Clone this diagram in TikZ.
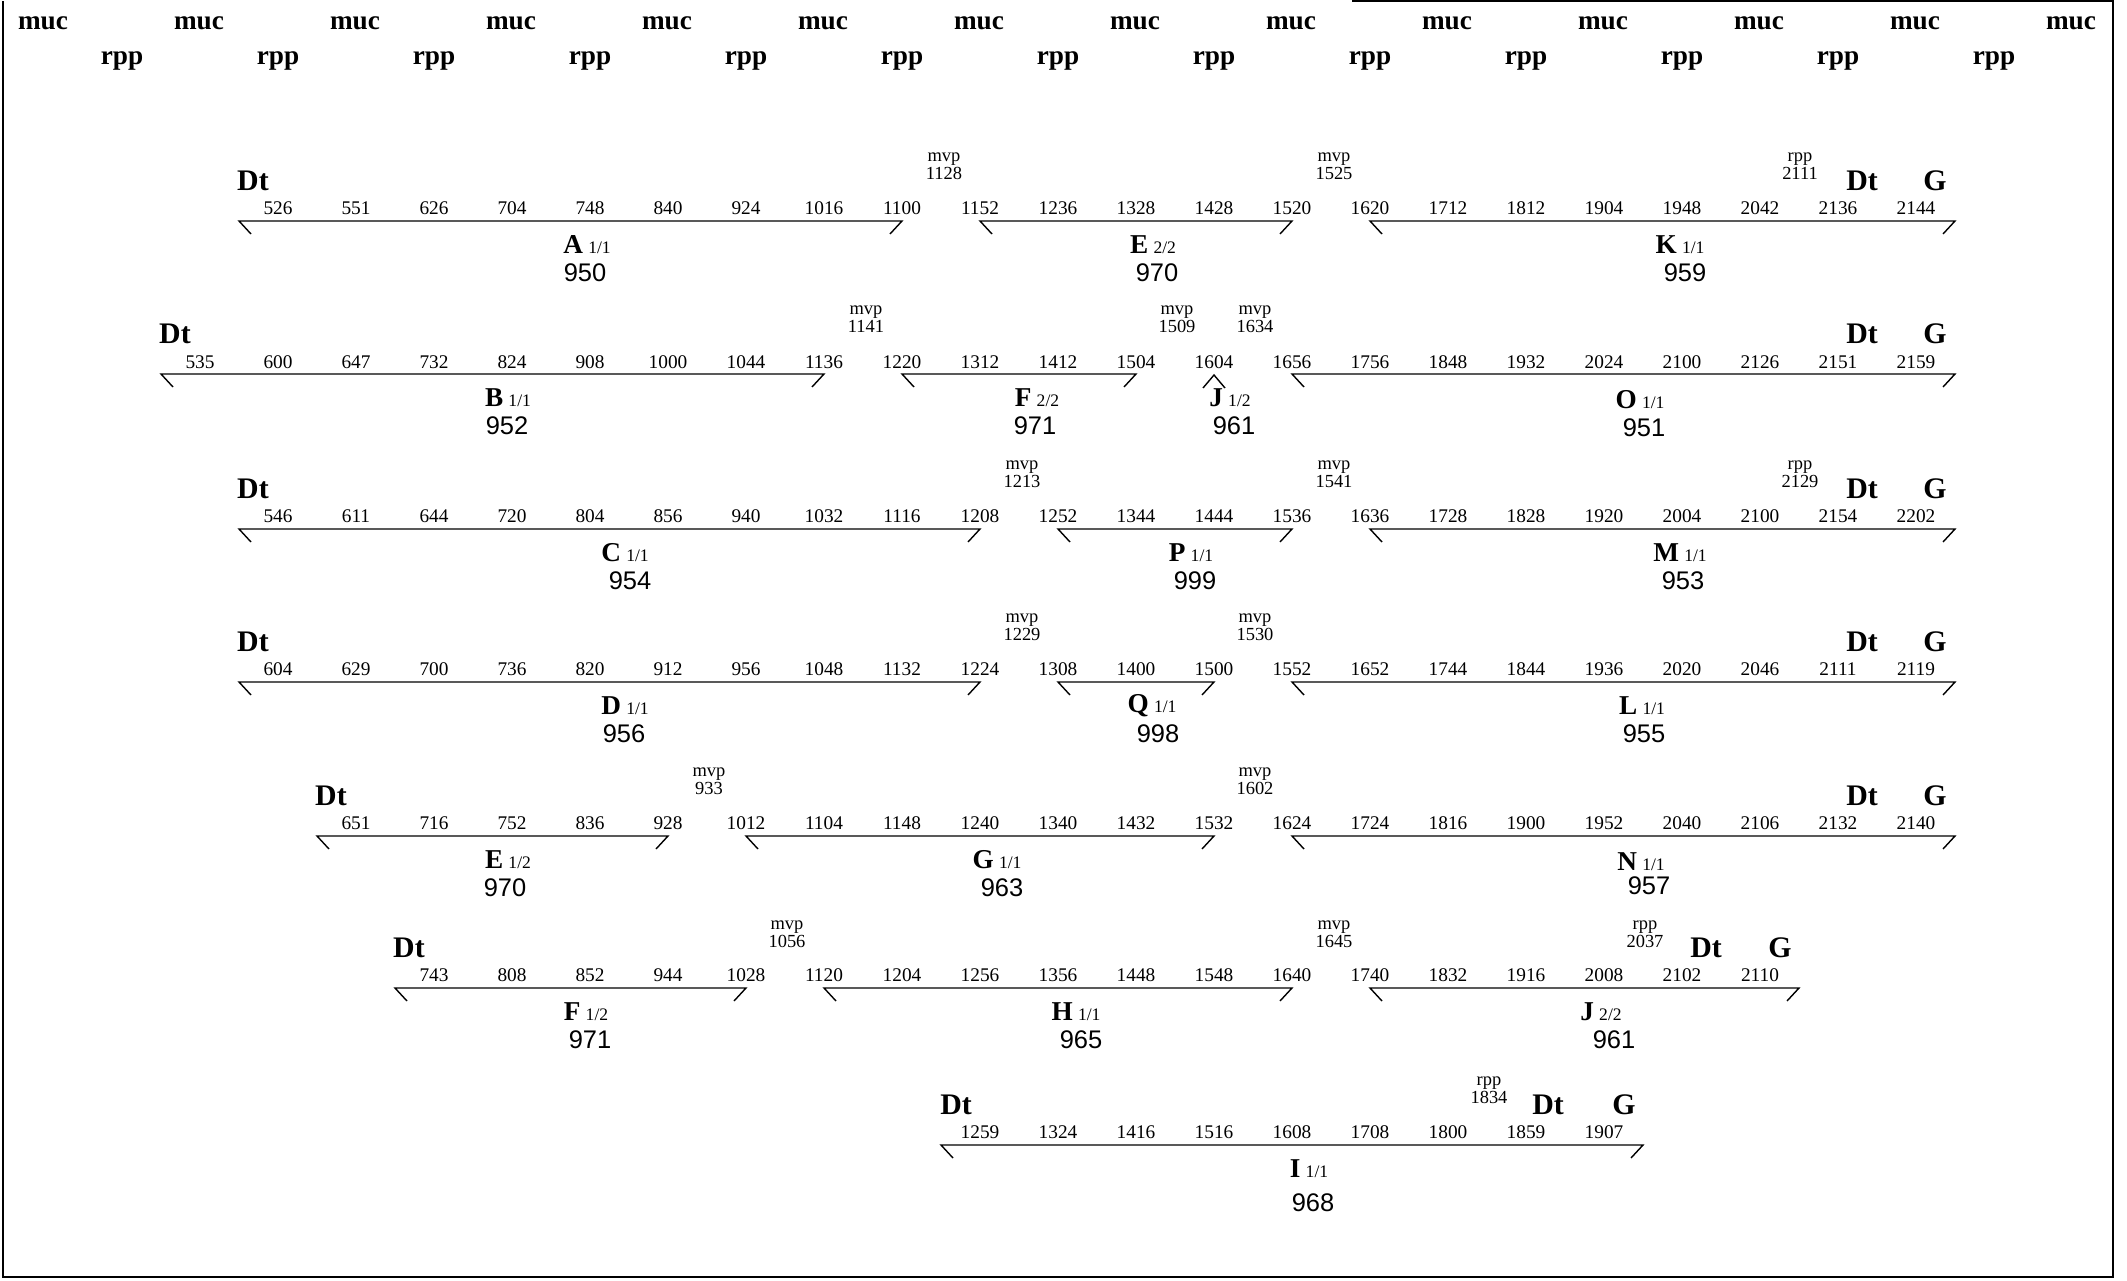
\documentclass[tikz,border=0pt]{standalone}
\usepackage{fontspec}
\setmainfont{Liberation Serif}
\newfontfamily\lensans{Liberation Sans}
\usepackage{tikz}
\newcommand{\genelbl}[2]{#1\hspace{3pt}{\mdseries\fontsize{10}{10}\selectfont #2}}

\begin{document}
\begin{tikzpicture}[x=0.02cm, y=-0.02cm,
  toplbl/.style={font=\fontsize{15.5}{15.5}\selectfont\bfseries, inner sep=0pt},
  num/.style={font=\fontsize{11}{11}\selectfont, inner sep=0pt},
  ptag/.style={font=\fontsize{10.5}{9}\selectfont, align=center, inner sep=0pt},
  term/.style={font=\fontsize{17}{17}\selectfont\bfseries, inner sep=0pt},
  gene/.style={font=\fontsize{15.5}{15.5}\selectfont\bfseries, inner sep=0pt},
  glen/.style={font=\lensans\fontsize{14.5}{14.5}\selectfont, inner sep=0pt},
  seg/.style={line width=0.8pt}
]
  \useasboundingbox (0,0) rectangle (2127,1281);
  \draw[line width=0.6pt] (1352,1) -- (2113,1) -- (2113,1277) -- (3,1277) -- (3,1);

  % header
  \foreach \i in {0,...,13}
    \node[toplbl] (muc\i) at ({43+156*\i},23) {muc};
  \foreach \i in {0,...,12}
    \node[toplbl] (rpp\i) at ({122+156*\i},61) {rpp};

  % positions, one row per line
  \foreach \n [count=\i from 1] in {526,551,626,704,748,840,924,1016,1100,1152,1236,1328,1428,1520,1620,1712,1812,1904,1948,2042,2136,2144}
    \node[num] (a\i) at ({200+78*\i},208) {\n};
  \foreach \n [count=\i from 0] in {535,600,647,732,824,908,1000,1044,1136,1220,1312,1412,1504,1604,1656,1756,1848,1932,2024,2100,2126,2151,2159}
    \node[num] (b\i) at ({200+78*\i},362) {\n};
  \foreach \n [count=\i from 1] in {546,611,644,720,804,856,940,1032,1116,1208,1252,1344,1444,1536,1636,1728,1828,1920,2004,2100,2154,2202}
    \node[num] (c\i) at ({200+78*\i},516) {\n};
  \foreach \n [count=\i from 1] in {604,629,700,736,820,912,956,1048,1132,1224,1308,1400,1500,1552,1652,1744,1844,1936,2020,2046,2111,2119}
    \node[num] (d\i) at ({200+78*\i},669) {\n};
  \foreach \n [count=\i from 2] in {651,716,752,836,928,1012,1104,1148,1240,1340,1432,1532,1624,1724,1816,1900,1952,2040,2106,2132,2140}
    \node[num] (e\i) at ({200+78*\i},823) {\n};
  \foreach \n [count=\i from 3] in {743,808,852,944,1028,1120,1204,1256,1356,1448,1548,1640,1740,1832,1916,2008,2102,2110}
    \node[num] (f\i) at ({200+78*\i},975) {\n};
  \foreach \n [count=\i from 10] in {1259,1324,1416,1516,1608,1708,1800,1859,1907}
    \node[num] (i\i) at ({200+78*\i},1132) {\n};

  % Dt and G
  \node[term] (dtA) at (253,181) {Dt};
  \node[term] (dtK) at (1862,181) {Dt};
  \node[term] (gK)  at (1935,181) {G};
  \node[term] (dtB) at (175,334) {Dt};
  \node[term] (dtO) at (1862,334) {Dt};
  \node[term] (gO)  at (1935,334) {G};
  \node[term] (dtC) at (253,489) {Dt};
  \node[term] (dtM) at (1862,489) {Dt};
  \node[term] (gM)  at (1935,489) {G};
  \node[term] (dtD) at (253,642) {Dt};
  \node[term] (dtL) at (1862,642) {Dt};
  \node[term] (gL)  at (1935,642) {G};
  \node[term] (dtE) at (331,796) {Dt};
  \node[term] (dtN) at (1862,796) {Dt};
  \node[term] (gN)  at (1935,796) {G};
  \node[term] (dtF) at (409,948) {Dt};
  \node[term] (dtJ) at (1706,948) {Dt};
  \node[term] (gJ)  at (1780,948) {G};
  \node[term] (dtI) at (956,1105) {Dt};
  \node[term] (dtI2) at (1548,1105) {Dt};
  \node[term] (gI)  at (1624,1105) {G};

  % mvp / rpp sites
  \node[ptag] (m1128) at (944,166)  {mvp\\1128};
  \node[ptag] (m1525) at (1334,166) {mvp\\1525};
  \node[ptag] (r2111) at (1800,166) {rpp\\2111};
  \node[ptag] (m1141) at (866,319)  {mvp\\1141};
  \node[ptag] (m1509) at (1177,319) {mvp\\1509};
  \node[ptag] (m1634) at (1255,319) {mvp\\1634};
  \node[ptag] (m1213) at (1022,474) {mvp\\1213};
  \node[ptag] (m1541) at (1334,474) {mvp\\1541};
  \node[ptag] (r2129) at (1800,474) {rpp\\2129};
  \node[ptag] (m1229) at (1022,627) {mvp\\1229};
  \node[ptag] (m1530) at (1255,627) {mvp\\1530};
  \node[ptag] (m933)  at (709,781)  {mvp\\933};
  \node[ptag] (m1602) at (1255,781) {mvp\\1602};
  \node[ptag] (m1056) at (787,934)  {mvp\\1056};
  \node[ptag] (m1645) at (1334,934) {mvp\\1645};
  \node[ptag] (r2037) at (1645,934) {rpp\\2037};
  \node[ptag] (r1834) at (1489,1090) {rpp\\1834};

  % segments
  \draw[seg] (251,234) -- (239,221) -- (902,221) -- (890,234);
  \draw[seg] (992,234) -- (980,221) -- (1292,221) -- (1280,234);
  \draw[seg] (1382,234) -- (1370,221) -- (1955,221) -- (1943,234);
  \draw[seg] (173,387) -- (161,374) -- (824,374) -- (812,387);
  \draw[seg] (914,387) -- (902,374) -- (1136,374) -- (1124,387);
  \draw[seg] (1203,388) -- (1214,375) -- (1225,388);
  \draw[seg] (1304,387) -- (1292,374) -- (1955,374) -- (1943,387);
  \draw[seg] (251,542) -- (239,529) -- (980,529) -- (968,542);
  \draw[seg] (1070,542) -- (1058,529) -- (1292,529) -- (1280,542);
  \draw[seg] (1382,542) -- (1370,529) -- (1955,529) -- (1943,542);
  \draw[seg] (251,695) -- (239,682) -- (980,682) -- (968,695);
  \draw[seg] (1070,695) -- (1058,682) -- (1214,682) -- (1202,695);
  \draw[seg] (1304,695) -- (1292,682) -- (1955,682) -- (1943,695);
  \draw[seg] (329,849) -- (317,836) -- (668,836) -- (656,849);
  \draw[seg] (758,849) -- (746,836) -- (1214,836) -- (1202,849);
  \draw[seg] (1304,849) -- (1292,836) -- (1955,836) -- (1943,849);
  \draw[seg] (407,1001) -- (395,988) -- (746,988) -- (734,1001);
  \draw[seg] (836,1001) -- (824,988) -- (1292,988) -- (1280,1001);
  \draw[seg] (1382,1001) -- (1370,988) -- (1799,988) -- (1787,1001);
  \draw[seg] (953,1158) -- (941,1145) -- (1643,1145) -- (1631,1158);

  % gene names and lengths
  \node[gene] (gnA) at (587,245) {\genelbl{A}{1/1}};
  \node[glen] (lnA) at (585,273) {950};
  \node[gene] (gnE2) at (1153,245) {\genelbl{E}{2/2}};
  \node[glen] (lnE2) at (1157,273) {970};
  \node[gene] (gnK) at (1680,245) {\genelbl{K}{1/1}};
  \node[glen] (lnK) at (1685,273) {959};
  \node[gene] (gnB) at (508,398) {\genelbl{B}{1/1}};
  \node[glen] (lnB) at (507,426) {952};
  \node[gene] (gnF2) at (1037,398) {\genelbl{F}{2/2}};
  \node[glen] (lnF2) at (1035,426) {971};
  \node[gene] (gnJ1) at (1230,398) {\genelbl{J}{1/2}};
  \node[glen] (lnJ1) at (1234,426) {961};
  \node[gene] (gnO) at (1640,400) {\genelbl{O}{1/1}};
  \node[glen] (lnO) at (1644,428) {951};
  \node[gene] (gnC) at (625,553) {\genelbl{C}{1/1}};
  \node[glen] (lnC) at (630,581) {954};
  \node[gene] (gnP) at (1191,553) {\genelbl{P}{1/1}};
  \node[glen] (lnP) at (1195,581) {999};
  \node[gene] (gnM) at (1680,553) {\genelbl{M}{1/1}};
  \node[glen] (lnM) at (1683,581) {953};
  \node[gene] (gnD) at (625,706) {\genelbl{D}{1/1}};
  \node[glen] (lnD) at (624,734) {956};
  \node[gene] (gnQ) at (1152,706) {\genelbl{Q}{1/1}};
  \node[glen] (lnQ) at (1158,734) {998};
  \node[gene] (gnL) at (1642,706) {\genelbl{L}{1/1}};
  \node[glen] (lnL) at (1644,734) {955};
  \node[gene] (gnE1) at (508,860) {\genelbl{E}{1/2}};
  \node[glen] (lnE1) at (505,888) {970};
  \node[gene] (gnG) at (997,860) {\genelbl{G}{1/1}};
  \node[glen] (lnG) at (1002,888) {963};
  \node[gene] (gnN) at (1641,862) {\genelbl{N}{1/1}};
  \node[glen] (lnN) at (1649,886) {957};
  \node[gene] (gnF1) at (586,1012) {\genelbl{F}{1/2}};
  \node[glen] (lnF1) at (590,1040) {971};
  \node[gene] (gnH) at (1076,1012) {\genelbl{H}{1/1}};
  \node[glen] (lnH) at (1081,1040) {965};
  \node[gene] (gnJ2) at (1601,1012) {\genelbl{J}{2/2}};
  \node[glen] (lnJ2) at (1614,1040) {961};
  \node[gene] (gnI) at (1309,1169) {\genelbl{I}{1/1}};
  \node[glen] (lnI) at (1313,1203) {968};
\end{tikzpicture}
\end{document}
